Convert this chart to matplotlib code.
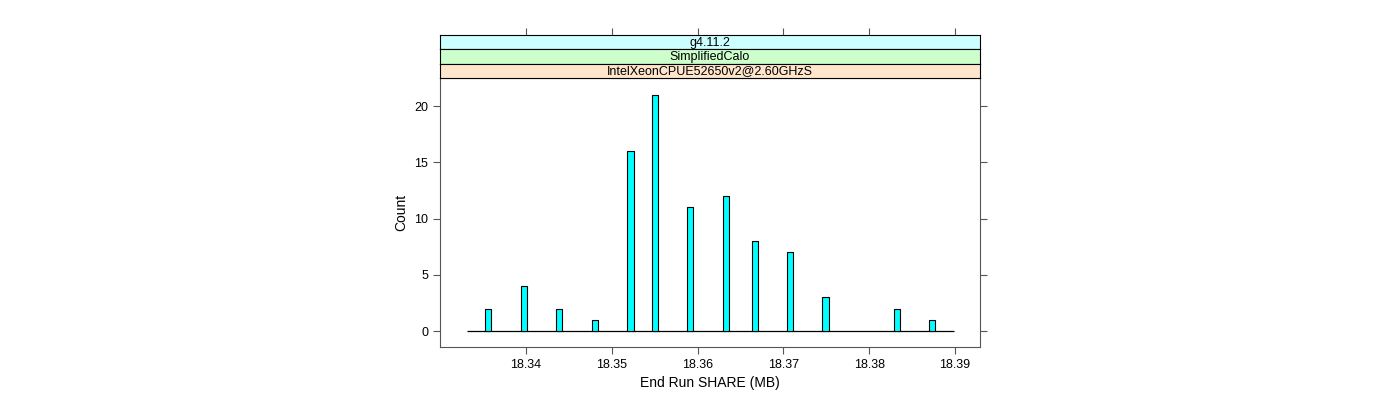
import matplotlib
matplotlib.use("Agg")
import matplotlib.pyplot as plt

plt.rcParams['font.family'] = ['Liberation Sans', 'DejaVu Sans']

# histogram bins (bin centre in MB, count)
share_mb = [18.3356, 18.3398, 18.3439, 18.3481, 18.3522, 18.3550, 18.3591,
            18.3633, 18.3667, 18.3708, 18.3749, 18.3832, 18.3873]
counts = [2, 4, 2, 1, 16, 21, 11, 12, 8, 7, 3, 2, 1]
bin_width = 0.00072
hist_range = (18.3332, 18.3899)

strip_labels = ["g4.11.2", "SimplifiedCalo", "IntelXeonCPUE52650v2@2.60GHzS"]
strip_colors = ["#ccffff", "#ccffcc", "#ffe5cc"]
xticks = [18.34, 18.35, 18.36, 18.37, 18.38, 18.39]
yticks = [0, 5, 10, 15, 20]

xlim = (18.3300, 18.3929)
frame = "#555555"

fig = plt.figure(figsize=(14, 4), dpi=100)
L, W = 440 / 1400, 540 / 1400
ax = fig.add_axes([L, 53 / 400, W, 269 / 400])

ax.bar(share_mb, counts, width=bin_width, color="#00ffff",
       edgecolor="black", linewidth=0.8, zorder=3)
ax.hlines(0, hist_range[0], hist_range[1], color="black", lw=0.9, zorder=2)
ax.set_xlim(*xlim)
ax.set_ylim(-1.42, 22.5)
ax.set_xticks(xticks)
ax.set_xticklabels([f"{t:.2f}" for t in xticks])
ax.set_yticks(yticks)
ax.tick_params(direction="out", length=5, color=frame, labelsize=9,
               right=True, top=False)
for s in ax.spines.values():
    s.set_color(frame)
ax.set_xlabel("End Run SHARE (MB)", fontsize=10)
ax.set_ylabel("Count", fontsize=10)

# strips
strip_h = 14.3 / 400
for i, (lab, col) in enumerate(zip(strip_labels, strip_colors)):
    b = (400 - 78) / 400 + (2 - i) * strip_h
    sa = fig.add_axes([L, b, W, strip_h])
    sa.set_facecolor(col)
    sa.set_xlim(*xlim)
    sa.set_yticks([])
    for s in sa.spines.values():
        s.set_color("black")
        s.set_linewidth(0.8)
    sa.text(0.5, 0.45, lab, transform=sa.transAxes, ha="center", va="center",
            fontsize=9)
    if i == 0:
        sa.set_xticks(xticks)
        sa.tick_params(axis="x", direction="out", length=5, color=frame,
                       top=True, bottom=False, labeltop=False, labelbottom=False)
    else:
        sa.set_xticks([])

fig.savefig("out.png", dpi=100)
